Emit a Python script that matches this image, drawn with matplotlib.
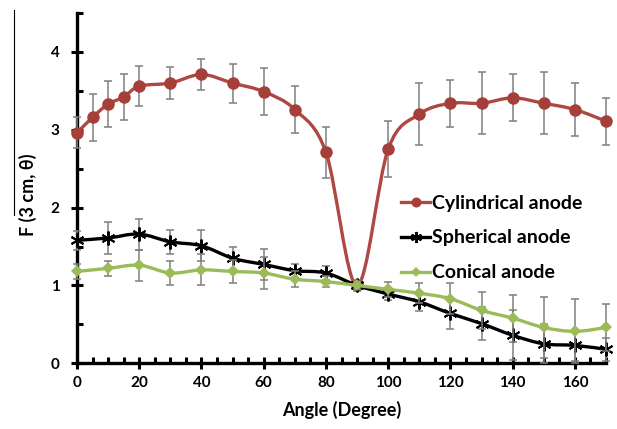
import numpy as np
import matplotlib
matplotlib.use("Agg")
import matplotlib.pyplot as plt
from matplotlib.path import Path
from matplotlib.patches import PathPatch
from matplotlib.lines import Line2D
from matplotlib.ticker import MultipleLocator

plt.rcParams['font.family'] = ['Lato', 'DejaVu Sans']

# ---------------- data ----------------
cyl_angle = [0, 5, 10, 15, 20, 30, 40, 50, 60, 70, 80, 90, 100, 110, 120, 130, 140, 150, 160, 170]
cyl_F = [2.96, 3.16, 3.33, 3.42, 3.56, 3.60, 3.71, 3.60, 3.49, 3.26, 2.71, 1.00,
         2.75, 3.20, 3.34, 3.34, 3.41, 3.34, 3.26, 3.11]
cyl_err = [0.2, 0.3, 0.3, 0.3, 0.26, 0.2, 0.2, 0.25, 0.3, 0.3, 0.33, 0.05,
           0.36, 0.4, 0.3, 0.4, 0.3, 0.4, 0.34, 0.3]

angle = [0, 10, 20, 30, 40, 50, 60, 70, 80, 90, 100, 110, 120, 130, 140, 150, 160, 170]
sph_F = [1.58, 1.61, 1.66, 1.56, 1.51, 1.35, 1.27, 1.19, 1.16, 1.00, 0.89, 0.79,
         0.64, 0.51, 0.36, 0.25, 0.23, 0.18]
sph_err = [0.12, 0.2, 0.2, 0.15, 0.2, 0.15, 0.2, 0.09, 0.09, 0.07, 0.08, 0.12,
           0.2, 0.21, 0.32, 0.25, 0.2, 0.15]
con_F = [1.18, 1.22, 1.26, 1.16, 1.20, 1.18, 1.16, 1.08, 1.05, 1.00, 0.95, 0.90,
         0.83, 0.68, 0.58, 0.46, 0.41, 0.46]
con_err = [0.1, 0.1, 0.2, 0.15, 0.2, 0.15, 0.21, 0.1, 0.07, 0.05, 0.1, 0.13,
           0.2, 0.24, 0.3, 0.39, 0.41, 0.3]

labels = ["Cylindrical anode", "Spherical anode", "Conical anode"]
x_label = "Angle (Degree)"
y_label = "F (3 cm, θ)"

# ---------------- style ----------------
RED = '#AF4742'
RED_MK = '#A63E3A'
BLACK = '#000000'
GREEN = '#9BBB59'
ERR = '#7F7F7F'
LW = 2.4


def smooth_path(x, y):
    pts = np.column_stack([np.asarray(x, float), np.asarray(y, float)])
    n = len(pts)
    verts = [pts[0]]
    codes = [Path.MOVETO]
    for i in range(n - 1):
        p0 = pts[i - 1] if i > 0 else pts[i]
        p1 = pts[i]
        p2 = pts[i + 1]
        p3 = pts[i + 2] if i + 2 < n else pts[i + 1]
        c1 = p1 + (p2 - p0) / 6.0
        c2 = p2 - (p3 - p1) / 6.0
        verts += [c1, c2, p2]
        codes += [Path.CURVE4] * 3
    return Path(verts, codes)


W, H = 617, 429
fig = plt.figure(figsize=(W / 100, H / 100), dpi=100)
ax = fig.add_axes([77 / W, 1 - 363.3 / H, (606 - 77) / W, (363.3 - 13) / H])

series = [
    (cyl_angle, cyl_F, cyl_err, RED, RED_MK, 'o', 9, labels[0]),
    (angle, sph_F, sph_err, BLACK, BLACK, (6, 2, 0), 10, labels[1]),
    (angle, con_F, con_err, GREEN, GREEN, 'D', 6.5, labels[2]),
]

handles = []
for k, (xs, ys, es, col, mcol, mk, ms, lab) in enumerate(series):
    z = 2 + k
    patch = PathPatch(smooth_path(xs, ys), facecolor='none', edgecolor=col,
                      lw=LW, zorder=z, capstyle='round', joinstyle='round',
                      clip_on=False)
    ax.add_patch(patch)
    eb = ax.errorbar(xs, ys, yerr=es, fmt='none', ecolor=ERR, elinewidth=1.1,
                     capsize=3, capthick=1.1, zorder=z + 0.1)
    for art in eb.lines[1] + eb.lines[2]:
        art.set_clip_on(False)
    mew = 1.4 if mk == (6, 2, 0) else 0
    ax.plot(xs, ys, linestyle='none', marker=mk, markersize=ms,
            color=mcol, markeredgecolor=mcol, markeredgewidth=mew,
            zorder=z + 0.2, clip_on=False)
    handles.append(Line2D([], [], color=col, lw=LW, marker=mk, markersize=ms * 0.8,
                          markerfacecolor=mcol, markeredgecolor=mcol,
                          markeredgewidth=mew, label=lab))

ax.set_xlim(0, 170)
ax.set_ylim(0, 4.5)

for s in ['top', 'right']:
    ax.spines[s].set_visible(False)
for s in ['left', 'bottom']:
    ax.spines[s].set_linewidth(2.4)
    ax.spines[s].set_color('black')
    ax.spines[s].set_zorder(1.5)

ax.xaxis.set_major_locator(MultipleLocator(20))
ax.xaxis.set_minor_locator(MultipleLocator(5))
ax.yaxis.set_major_locator(MultipleLocator(1))
ax.yaxis.set_minor_locator(MultipleLocator(0.5))
ax.tick_params(which='major', direction='inout', length=9, width=2.2,
               labelsize=11, pad=5)
ax.tick_params(which='minor', direction='in', length=4, width=2.2)
ax.tick_params(axis='y', which='major', pad=8)
for lbl in ax.get_xticklabels() + ax.get_yticklabels():
    lbl.set_fontweight('bold')

fig.text(341.5 / W, 1 - 410 / H, x_label, ha='center', va='center',
         fontsize=13, fontweight='bold')
fig.text(28 / W, 1 - 195 / H, y_label, ha='center', va='center',
         fontsize=13, fontweight='bold', rotation=90)
fig.add_artist(Line2D([14 / W, 14 / W], [1 - 10 / H, 1 - 215 / H],
                      color='black', lw=0.8))

leg = ax.legend(handles=handles, loc='center left',
                bbox_to_anchor=(401 / W, 1 - 238 / H),
                bbox_transform=fig.transFigure, frameon=False,
                prop={'size': 14, 'weight': 'bold'},
                handlelength=1.5, handletextpad=0.1,
                labelspacing=0.92, borderpad=0, borderaxespad=0)

fig.savefig('out.png', dpi=100)
